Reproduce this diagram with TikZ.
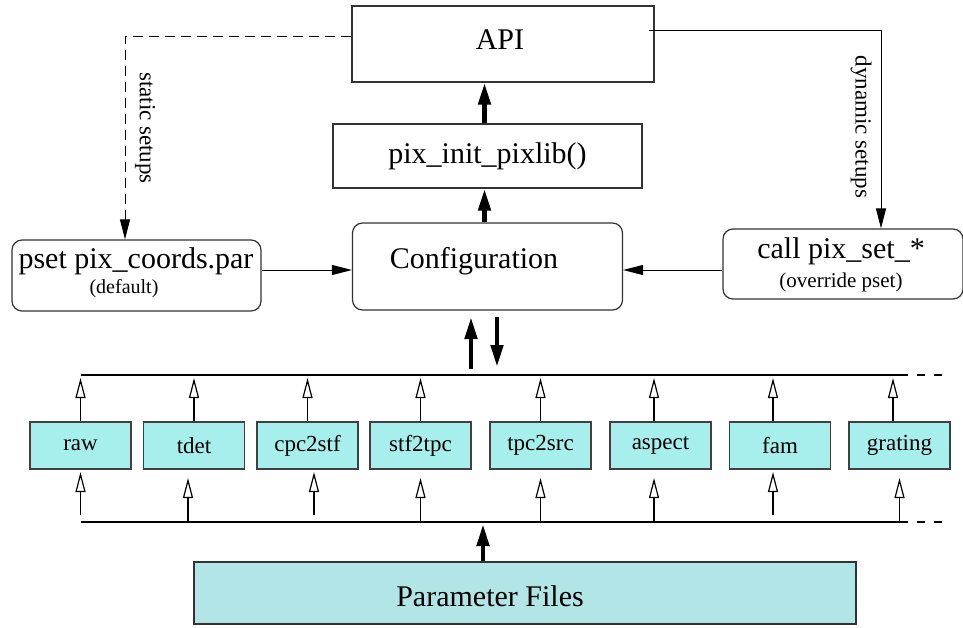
\documentclass[tikz,border=0pt]{standalone}
\usepackage{fontspec}
\setmainfont{Liberation Serif}
\usetikzlibrary{arrows.meta}
\usetikzlibrary{calc}
\definecolor{modcyan}{HTML}{A6EFED}
\definecolor{parcyan}{HTML}{B2E5E5}
\tikzstyle{bigbox}=[rectangle, draw=black!80, line width=0.6pt, inner sep=0pt, font=\fontsize{15}{17}\selectfont]
\tikzstyle{roundbox}=[bigbox, rounded corners=5pt]
\tikzstyle{modbox}=[rectangle, draw=black!75, line width=0.6pt, fill=modcyan, inner sep=0pt, minimum width=50.5pt, minimum height=23.5pt, font=\fontsize{11.5}{13}\selectfont]
\tikzstyle{thinarrow}=[-{Triangle[length=10pt, width=5pt]}, line width=0.5pt]
\tikzstyle{fatarrow}=[-{Triangle[length=11pt, width=6pt]}, line width=2.3pt]
\tikzstyle{modarrow}=[-{Triangle[open, length=10pt, width=5pt]}, line width=0.6pt]
\tikzstyle{sidelabel}=[rotate=-90, font=\fontsize{11.5}{13}\selectfont]
\tikzset{>=latex}

\begin{document}
\begin{tikzpicture}[x=0.5pt, y=-0.5pt]
\useasboundingbox (0,0) rectangle (963,627);

% upper part
\node[bigbox, minimum width=151pt, minimum height=38pt] (api) at (503,44) {};
\node[font=\fontsize{15}{17}\selectfont] (apitext) at (500,40) {API};
\node[bigbox, minimum width=154.5pt, minimum height=32pt] (init) at (487.5,156) {pix\_init\_pixlib()};
\node[roundbox, minimum width=135pt, minimum height=43.5pt] (conf) at (487.5,266.5) {};
\node[font=\fontsize{15}{17}\selectfont] (conftext) at (474,261) {Configuration};
\node[roundbox, minimum width=124.5pt, minimum height=35.5pt] (pset) at (136.5,275.5) {};
\node[font=\fontsize{15}{17}\selectfont] (psettext) at (136,261) {pset pix\_coords.par};
\node[font=\fontsize{10}{12}\selectfont] (psetsub) at (124,289) {(default)};
\node[roundbox, minimum width=120pt, minimum height=35pt] (call) at (843,264) {};
\node[font=\fontsize{15}{17}\selectfont] (calltext) at (841,251) {call pix\_set\_*};
\node[font=\fontsize{10.5}{12}\selectfont] (callsub) at (841,282) {(override pset)};

\coordinate (dashcorner) at (125,36);
\coordinate (dyncorner) at (881,30);
\draw[thinarrow, dash pattern=on 5pt off 3pt] (api.west |- dashcorner) -- (dashcorner) -- (pset.north -| dashcorner);
\draw[thinarrow] ([xshift=-3pt]api.east |- dyncorner) -- (dyncorner) -- (call.north -| dyncorner);
\node[sidelabel] (static) at (145,128) {static setups};
\node[sidelabel] (dynamic) at (861,127) {dynamic setups};

\draw[thinarrow] (pset.east |- 0,270) -- (conf.west |- 0,270);
\draw[thinarrow] (call.west |- 0,270) -- (conf.east |- 0,270);
\draw[fatarrow] ([xshift=-1.5pt]init.north) -- ([xshift=-1.5pt]api.south -| init.north);
\draw[fatarrow] ([xshift=-1.5pt]conf.north -| init.south) -- ([xshift=-1.5pt]init.south);

% buses
\coordinate (busT) at (81,375);
\coordinate (busTend) at (908,375);
\coordinate (busB) at (81,522);
\coordinate (busBend) at (908,522);
\draw[line width=0.6pt] (busT) -- (busTend);
\draw[line width=0.6pt] (busB) -- (busBend);
\draw[line width=0.6pt, dash pattern=on 4pt off 4.5pt] ([xshift=4.5pt]busTend) -- ++(25,0);
\draw[line width=0.6pt, dash pattern=on 4pt off 4.5pt] ([xshift=4.5pt]busBend) -- ++(25,0);

\draw[fatarrow] (471,369) -- (471,317);
\draw[fatarrow] (497,317) -- (497,367);

% modules
\node[modbox] (raw) at (80.5,445.5) {raw};
\node[modbox] (tdet) at (194,445.5) {tdet};
\node[modbox] (cpc2stf) at (307.5,445.5) {cpc2stf};
\node[modbox] (stf2tpc) at (420.5,445.5) {stf2tpc};
\node[modbox] (tpc2src) at (540.5,445.5) {tpc2src};
\node[modbox] (aspect) at (660.5,445.5) {aspect};
\node[modbox] (fam) at (780,445.5) {fam};
\node[modbox] (grating) at (899.5,445.5) {grating};

\foreach \m/\dt/\db/\tip/\tail in {raw/0/0/472/515, tdet/0/-3/478/522, cpc2stf/0/3.25/472/515, stf2tpc/0/0/478/522, tpc2src/0/0/478/522, aspect/-3.25/-3.25/478/522, fam/-3.5/-3.5/472/515, grating/-3.25/0/478/522} {
	\draw[modarrow] ([xshift=\dt pt]\m.north) -- ([xshift=\dt pt, yshift=-1.5pt]\m.north |- busT);
	\draw[modarrow] ([xshift=\db pt]\m.south |- 0,\tail) -- ([xshift=\db pt]\m.south |- 0,\tip);
}

% parameter files
\node[bigbox, fill=parcyan, minimum width=331pt, minimum height=31pt] (par) at (525,593) {};
\node[font=\fontsize{15}{17}\selectfont] (partext) at (490,596) {Parameter Files};
\draw[fatarrow] (par.north -| 483,0) -- (483,524);

\end{tikzpicture}
\end{document}
